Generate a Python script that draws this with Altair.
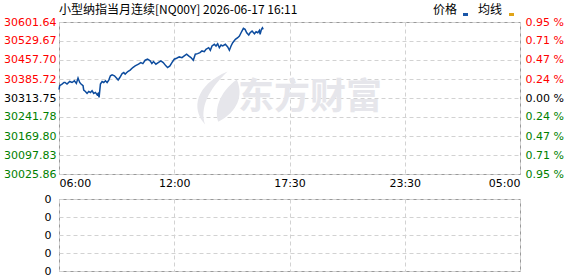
import altair as alt
import pandas as pd

# ---- data (minutes after 06:00, price) ----
minutes = [0, 2, 9, 15, 18, 24, 32, 39, 46, 52, 57, 62, 66, 72, 74, 79, 84, 89, 94, 99,
           104, 109, 114, 117, 120, 124, 129, 134, 139, 144, 149, 154, 159, 166, 172,
           177, 182, 189, 194, 198, 206, 213, 221, 228, 238, 245, 251, 258, 265, 273,
           278, 283, 290, 297, 305, 312, 320, 325, 332, 338, 345, 352, 360, 368, 375,
           382, 388, 395, 402, 408, 415, 422, 428, 435, 440, 448, 453, 458, 465, 470,
           475, 480, 485, 490, 498, 505, 510, 515, 520, 528, 535, 540, 545, 552, 557,
           562, 568, 572, 578, 585, 590, 595, 600, 602, 606, 609, 611]
prices = [30345.02, 30360.10, 30366.50, 30372.53, 30372.53, 30366.50, 30376.30, 30372.53,
          30378.94, 30368.76, 30389.11, 30372.53, 30366.50, 30360.10, 30343.89, 30338.62,
          30331.08, 30338.62, 30334.85, 30341.26, 30331.08, 30334.85, 30326.18, 30331.08,
          30316.01, 30366.50, 30376.30, 30372.53, 30378.94, 30372.53, 30381.57, 30397.78,
          30401.54, 30397.78, 30389.11, 30381.57, 30391.37, 30406.44, 30410.21, 30404.18,
          30413.98, 30419.25, 30429.05, 30435.46, 30441.86, 30447.89, 30444.12, 30456.93,
          30460.70, 30454.30, 30444.12, 30451.66, 30441.86, 30447.89, 30454.30, 30447.89,
          30435.46, 30429.05, 30435.46, 30447.89, 30460.70, 30464.47, 30469.37, 30466.73,
          30473.14, 30479.54, 30473.14, 30466.73, 30456.93, 30479.54, 30481.80, 30485.57,
          30491.98, 30489.34, 30498.38, 30504.41, 30494.61, 30510.82, 30517.22, 30510.82,
          30519.48, 30504.41, 30514.58, 30510.82, 30517.22, 30507.05, 30494.61, 30510.82,
          30523.25, 30536.06, 30542.09, 30548.50, 30560.93, 30577.51, 30573.74, 30560.93,
          30552.26, 30560.93, 30567.34, 30557.16, 30564.70, 30560.93, 30569.97, 30554.90,
          30573.74, 30579.77, 30573.74]

base_price = 30313.75
price_ticks = [30025.86, 30097.83, 30169.80, 30241.78, 30313.75,
               30385.72, 30457.70, 30529.67, 30601.64]
pct_labels = ["0.95 %", "0.71 %", "0.47 %", "0.24 %", "0.00 %",
              "0.24 %", "0.47 %", "0.71 %", "0.95 %"]
session_minutes = 1380
time_ticks = [0, 345, 690, 1035, 1380]
time_labels = ["06:00", "12:00", "17:30", "23:30", "05:00"]
vol_ticks = [0, 1, 2, 3, 4]
vol_labels = ["0", "0", "0", "0", "0"]

title_text = "小型纳指当月连续[NQ00Y] 2026-06-17 16:11"
legend_names = ["价格", "均线"]
legend_colors = ["#1a56a8", "#e0a418"]
watermark_text = "东方财富"

LINE_COLOR = "#0d4c9e"
GRID = "#d2d2d2"
FONT = "DejaVu Sans"
CJK = "Noto Sans CJK SC"


def label_expr(ticks, labels, tol):
    parts = [f"abs(datum.value - {t}) < {tol} ? '{l}'" for t, l in zip(ticks, labels)]
    return " : ".join(parts) + " : ''"


price_color = {
    "condition": [
        {"test": f"datum.value > {base_price + 1}", "value": "#ff0000"},
        {"test": f"datum.value < {base_price - 1}", "value": "#008000"},
    ],
    "value": "#000000",
}

df = pd.DataFrame({"minute": minutes, "price": prices})

W, H1, H2 = 461, 152, 72

x_scale = alt.Scale(domain=[0, session_minutes], nice=False, zero=False)
y_scale = alt.Scale(domain=[price_ticks[0], price_ticks[-1]], nice=False, zero=False)

x_top = alt.X(
    "minute:Q", scale=x_scale,
    axis=alt.Axis(values=time_ticks, labelExpr=label_expr(time_ticks, time_labels, 0.5),
                  title=None, grid=True, gridDash=[4, 3], gridColor=GRID,
                  ticks=False, domain=False, labelFont=FONT, labelFontSize=11,
                  labelColor="#000000", labelPadding=3, labelFlush=True,
                  labelOverlap=False, minExtent=17, maxExtent=17),
)

y_left = alt.Y(
    "price:Q", scale=y_scale,
    axis=alt.Axis(values=price_ticks, format=".2f", title=None, grid=True,
                  gridDash=[4, 3], gridColor=GRID, ticks=False, domain=False,
                  labelFont=FONT, labelFontSize=11, labelColor=price_color,
                  labelPadding=3, labelFlush=False, labelOverlap=False,
                  minExtent=58, maxExtent=58),
)

y_right = alt.Y(
    "price:Q", scale=y_scale,
    axis=alt.Axis(orient="right", values=price_ticks,
                  labelExpr=label_expr(price_ticks, pct_labels, 0.01), title=None,
                  grid=False, ticks=False, domain=False, labelFont=FONT,
                  labelFontSize=11, labelColor=price_color, labelPadding=5,
                  labelFlush=False, labelOverlap=False),
)

wm_df = pd.DataFrame({"t": [watermark_text]})
logo_path = ("M 0.4 -1 C -0.8 -0.5 -1 0.4 -0.45 1 C -0.65 0.4 -0.35 -0.3 0.4 -1 Z "
             "M 0.75 -0.7 C 0.05 -0.2 -0.1 0.5 0.05 0.9 C 0.8 0.5 1 -0.1 0.75 -0.7 Z")

watermark = alt.Chart(wm_df).mark_text(
    font=CJK, fontSize=36, fontWeight="bold", color="#e6e6eb", align="center",
    baseline="middle"
).encode(text="t:N", x=alt.value(251), y=alt.value(76))

logo = alt.Chart(wm_df).mark_point(
    shape=logo_path, filled=True, size=2800, color="#e6e6eb", opacity=1
).encode(x=alt.value(158), y=alt.value(76))

line = alt.Chart(df).mark_line(color=LINE_COLOR, strokeWidth=1.5).encode(x=x_top, y=y_left)
right_axis = alt.Chart(df).mark_line(opacity=0).encode(x=x_top, y=y_right)

title_df = pd.DataFrame({"t": [title_text]})
title = alt.Chart(title_df).mark_text(
    font=CJK, fontSize=12, color="#000000", align="left", baseline="middle"
).encode(text="t:N", x=alt.value(0), y=alt.value(-12))

leg_df = pd.DataFrame({"name": legend_names, "color": legend_colors,
                       "tx": [374, 419], "sx": [404, 450]})
leg_text = alt.Chart(leg_df).mark_text(
    font=CJK, fontSize=12, color="#000000", align="left", baseline="middle"
).encode(text="name:N", x=alt.X("tx:Q", scale=None), y=alt.value(-12))
leg_sym = alt.Chart(leg_df).mark_rect().encode(
    x=alt.X("sx:Q", scale=None), x2=alt.X2("sx2:Q"),
    y=alt.value(-9), y2=alt.value(-6),
    color=alt.Color("color:N", scale=None),
).transform_calculate(sx2="datum.sx + 5")

top = alt.layer(watermark, logo, line, right_axis, title, leg_text, leg_sym).resolve_axis(
    y="independent"
).properties(width=W, height=H1)

# lower (volume) panel: empty in the reference
vol_df = pd.DataFrame({"minute": time_ticks, "vol": [0] * len(time_ticks)})
bottom = alt.Chart(vol_df).mark_rule(opacity=0).encode(
    x=alt.X("minute:Q", scale=x_scale,
            axis=alt.Axis(values=time_ticks, labels=False, ticks=False, domain=False,
                          title=None, grid=True, gridDash=[4, 3], gridColor=GRID,
                          maxExtent=0, minExtent=0)),
    y=alt.Y("vol:Q", scale=alt.Scale(domain=[vol_ticks[0], vol_ticks[-1]], nice=False, zero=False),
            axis=alt.Axis(values=vol_ticks, labelExpr=label_expr(vol_ticks, vol_labels, 0.01),
                          title=None, grid=True, gridDash=[4, 3], gridColor=GRID,
                          ticks=False, domain=False, labelFont=FONT, labelFontSize=11,
                          labelColor="#000000", labelPadding=8, labelFlush=False,
                          labelOverlap=False, minExtent=58, maxExtent=58)),
).properties(width=W, height=H2)

chart = alt.vconcat(top, bottom, spacing=0).properties(
    padding={"left": 0, "top": 3, "right": 0, "bottom": 0},
    background="#ffffff",
).configure_view(stroke="#999999", strokeWidth=1)

chart.save("out.html", embed_options={"renderer": "svg", "actions": False})
